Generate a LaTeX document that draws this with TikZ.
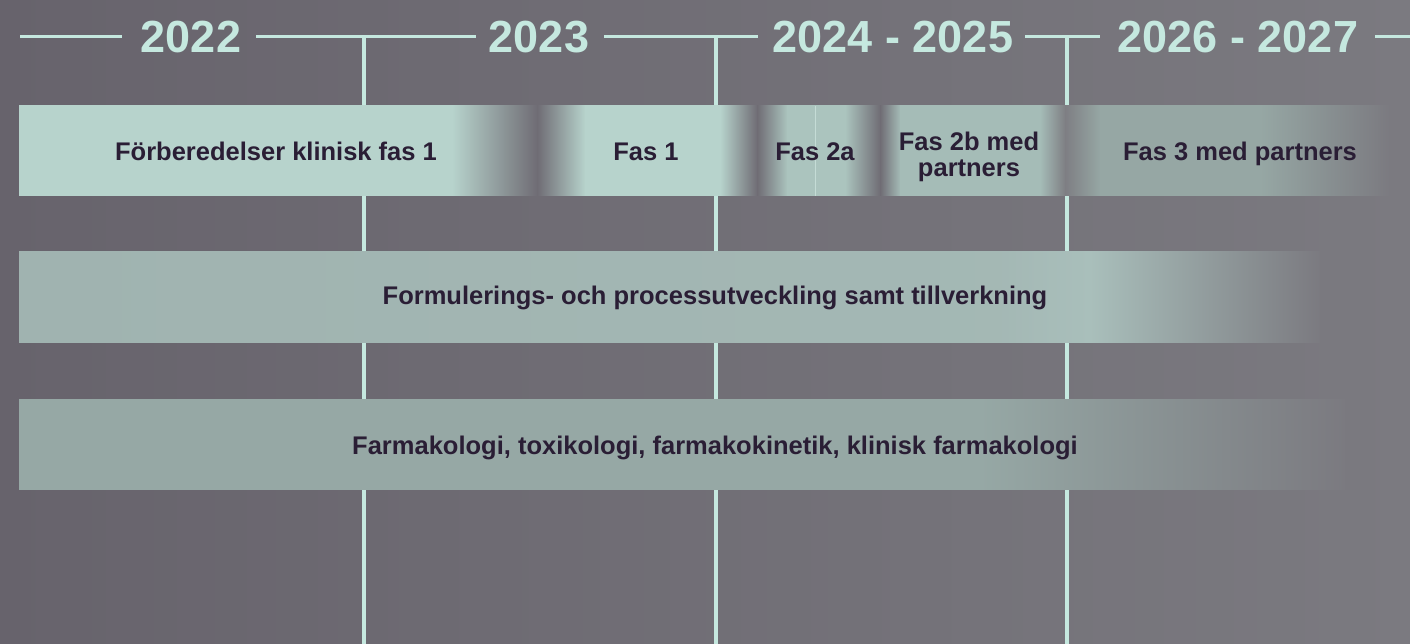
\documentclass[tikz,border=0pt]{standalone}
\usepackage{fontspec}
\setmainfont{Liberation Sans}
\definecolor{bgL}{HTML}{67636C}
\definecolor{bgR}{HTML}{7B7A80}
\definecolor{tline}{HTML}{C5E8DF}
\definecolor{mintA}{HTML}{B7D3CC}
\definecolor{darkA}{HTML}{6F6C74}
\definecolor{mintB}{HTML}{ABC4BE}
\definecolor{mintC}{HTML}{A5BCB7}
\definecolor{grayA}{HTML}{7E7E83}
\definecolor{grayB}{HTML}{96A7A4}
\definecolor{rowTwoA}{HTML}{A0B3B0}
\definecolor{rowTwoB}{HTML}{A9BFBB}
\definecolor{rowThreeA}{HTML}{96A8A5}
\definecolor{txt}{HTML}{2A1E35}
\newcommand{\seg}[6]{\shade[left color=#5,right color=#6] (#1,#3) rectangle (#2,#4);}
\tikzset{
  tl/.style={draw=tline,line width=3pt},
  vl/.style={draw=tline,line width=4pt},
  year/.style={text=tline,font=\bfseries\fontsize{45}{45}\selectfont,inner sep=0pt,anchor=base},
  bartext/.style={text=txt,font=\bfseries\fontsize{25.5}{26}\selectfont,inner sep=0pt,anchor=base,align=center},
}
\begin{document}
\begin{tikzpicture}[x=1pt,y=-1pt]
\useasboundingbox (0,0) rectangle (1410,644);
\shade[left color=bgL,right color=bgR] (0,0) rectangle (1410,644);
% year labels
\node[year] (y2022) at (191,53) {2022};
\node[year] (y2023) at (539,53) {2023};
\node[year] (y2024) at (893,53) {2024 - 2025};
\node[year] (y2026) at (1238,53) {2026 - 2027};
\coordinate (h0) at (20,37);
\coordinate (h1a) at (122,37);
\coordinate (h1b) at (256,37);
\coordinate (h2a) at (476,37);
\coordinate (h2b) at (604,37);
\coordinate (h3a) at (758,37);
\coordinate (h3b) at (1025,37);
\coordinate (h4a) at (1100,37);
\coordinate (h4b) at (1375,37);
\coordinate (h5) at (1410,37);
\coordinate (v1t) at (364,37);
\coordinate (v1b) at (364,644);
\coordinate (v2t) at (716,37);
\coordinate (v2b) at (716,644);
\coordinate (v3t) at (1067,37);
\coordinate (v3b) at (1067,644);
\draw[tl] (h0) -- (h1a);
\draw[tl] (h1b) -- (h2a);
\draw[tl] (h2b) -- (h3a);
\draw[tl] (h3b) -- (h4a);
\draw[tl] (h4b) -- (h5);
\draw[vl] (v1t) -- (v1b);
\draw[vl] (v2t) -- (v2b);
\draw[vl] (v3t) -- (v3b);
% row 1
\begin{scope}
\clip (19,106) rectangle (1390,196);
\fill[mintA] (19,100) rectangle (452.5,202);
\seg{452}{537.5}{100}{202}{mintA}{darkA}
\seg{537}{585.5}{100}{202}{darkA}{mintA}
\fill[mintA] (585,100) rectangle (720.5,202);
\seg{720}{757.5}{100}{202}{mintA}{darkA}
\seg{757}{787.5}{100}{202}{darkA}{mintB}
\fill[mintB] (787,100) rectangle (845.5,202);
\seg{845}{880.5}{100}{202}{mintB}{darkA}
\seg{880}{900.5}{100}{202}{darkA}{mintC}
\fill[mintC] (900,100) rectangle (1040.5,202);
\seg{1040}{1065.5}{100}{202}{mintC}{grayA}
\seg{1065}{1100.5}{100}{202}{grayA}{grayB}
\fill[grayB] (1100,100) rectangle (1260.5,202);
\seg{1260}{1390}{100}{202}{grayB}{bgR}
\end{scope}
\coordinate (f2t) at (815,106);
\coordinate (f2b) at (815,196);
\draw[draw=mintA!80!white,line width=1pt] (f2t) -- (f2b);
% row 2
\begin{scope}
\clip (19,252) rectangle (1320,342);
\seg{19}{1000.5}{246}{348}{rowTwoA}{rowTwoA!60!rowTwoB}
\seg{1000}{1090.5}{246}{348}{rowTwoA!60!rowTwoB}{rowTwoB}
\seg{1090}{1320}{246}{348}{rowTwoB}{bgR}
\end{scope}
% row 3
\begin{scope}
\clip (19,399) rectangle (1345,489);
\fill[rowThreeA] (19,393) rectangle (980.5,495);
\seg{980}{1345}{393}{495}{rowThreeA}{bgR}
\end{scope}
% texts
\node[bartext] (p0) at (276,161) {Förberedelser klinisk fas 1};
\node[bartext] (p1) at (646,161) {Fas 1};
\node[bartext] (p2a) at (815,161) {Fas 2a};
\node[bartext,anchor=center] (p2b) at (969,157) {Fas 2b med\\partners};
\node[bartext] (p3) at (1240,161) {Fas 3 med partners};
\node[bartext] (r2) at (715,305) {Formulerings- och processutveckling samt tillverkning};
\node[bartext] (r3) at (715,454) {Farmakologi, toxikologi, farmakokinetik, klinisk farmakologi};
\end{tikzpicture}
\end{document}
